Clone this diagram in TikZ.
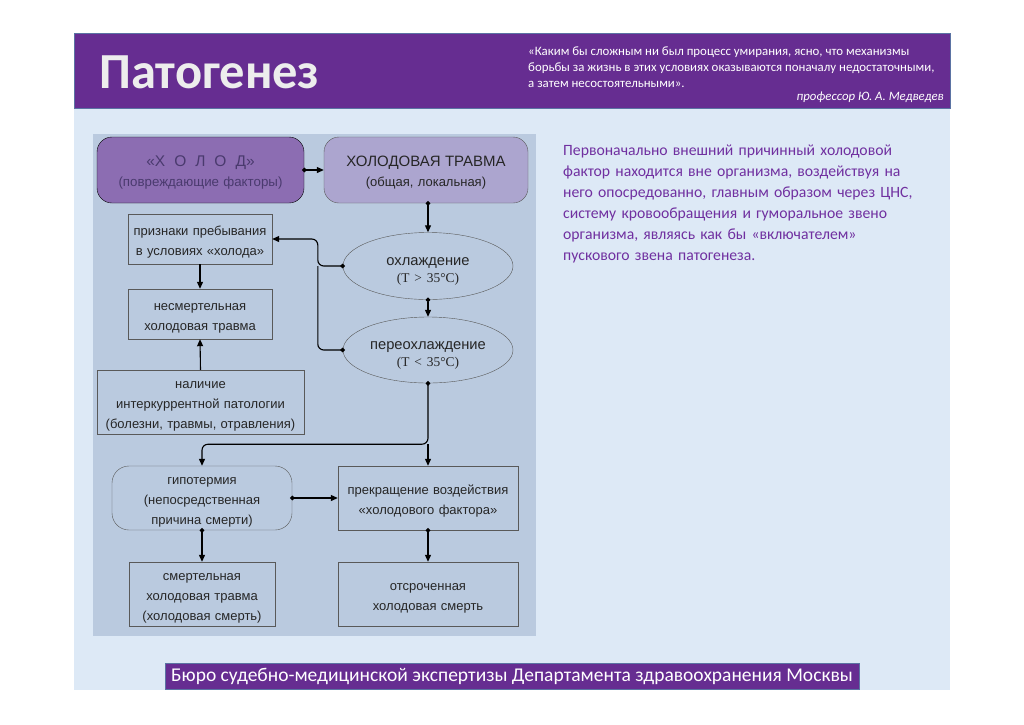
\documentclass[tikz,border=0pt]{standalone}
\usepackage{fontspec}
\setmainfont{Carlito}
\newfontfamily\diagfont{Liberation Sans}
\newfontfamily\tempfont{Liberation Serif}
\usetikzlibrary{positioning,calc,arrows.meta,shapes.geometric}
\definecolor{slidebg}{HTML}{DDE9F6}
\definecolor{headpurple}{HTML}{662D91}
\definecolor{edgeblue}{HTML}{5B73A3}
\definecolor{panelbg}{HTML}{BACADF}
\definecolor{coldfill}{HTML}{8C6DB2}
\definecolor{coldtext}{HTML}{4A3A6E}
\definecolor{traumafill}{HTML}{ACA5CF}
\definecolor{bodypurple}{HTML}{7030A0}
\tikzset{dbox/.style={draw=black!65, fill=panelbg, inner sep=0pt, align=center, text=black!85, font=\diagfont\fontsize{13}{20}\selectfont, execute at begin node={\rule{0pt}{18pt}}, execute at end node=\strut}}
\tikzset{dsize/.style 2 args={minimum width=#1pt, text width=#1pt, minimum height=#2pt}}
\tikzset{droundbox/.style={dbox, rounded corners=15pt}}
\tikzset{doval/.style={dbox, ellipse, text width=116pt, font=\diagfont\fontsize{14.7}{17}\selectfont, execute at begin node=\rule{0pt}{21pt}}}
\tikzset{darr/.style={draw, line width=1.1pt, {Circle[length=4.5pt]}-{Triangle[length=7pt,width=6pt]}, shorten <=-2pt, rounded corners=6pt}}
\tikzset{darr0/.style={draw, line width=1.1pt, -{Triangle[length=7pt,width=6pt]}, rounded corners=6pt}}
\tikzset{dline/.style={draw, line width=1.1pt, {Circle[length=4.5pt]}-, shorten <=-2pt, rounded corners=6pt}}
\newcommand\tval[1]{{\tempfont\fontsize{13.4}{14}\selectfont #1}}
\begin{document}
\begin{tikzpicture}[x=1pt, y=-1pt]
	\useasboundingbox (0,0) rectangle (1024,724);
	\fill[white] (0,0) rectangle (1024,724);
	\fill[slidebg] (74,33) rectangle (950,690);
	\draw[edgeblue, fill=headpurple, line width=1pt] (74,33) rectangle (950,108);

	\node[anchor=west, inner sep=0pt, text=black!7, font=\bfseries\fontsize{50.5}{50}\selectfont] (title) at (99,72) {Патогенез};
	\node[anchor=north west, inner sep=0pt, align=left, text=white, font=\fontsize{12.85}{16}\selectfont] (quote) at (528,46.5)
		{«Каким бы сложным ни был процесс умирания, ясно, что механизмы\\
		борьбы за жизнь в этих условиях оказываются поначалу недостаточными,\\
		а затем несостоятельными».};
	\node[anchor=base east, inner sep=0pt, text=white, font=\itshape\fontsize{12.8}{14}\selectfont] (prof) at (944,100.5) {профессор Ю. А. Медведев};

	\node[anchor=north west, inner sep=0pt, text width=380pt, align=left, text=bodypurple, font=\fontsize{15.7}{21}\selectfont] (onset) at (563,145)
		{Первоначально внешний причинный холодовой\\
		фактор находится вне организма, воздействуя на\\
		него опосредованно, главным образом через ЦНС,\\
		систему кровообращения и гуморальное звено\\
		организма, являясь как бы «включателем»\\
		пускового звена патогенеза.};

	% diagram
	\fill[panelbg] (93,134) rectangle (536,636);
	\node[droundbox, dsize={207}{66}, draw=black, fill=coldfill, text=coldtext] (cold) at (200.5,170)
		{{\fontsize{15.5}{20}\selectfont «Х\hspace{9pt}О\hspace{9pt}Л\hspace{9pt}О\hspace{9pt}Д»}\\{\fontsize{13.3}{20}\selectfont (повреждающие факторы)}};
	\node[droundbox, dsize={204}{66}, fill=traumafill] (trauma) at (426,170)
		{{\fontsize{15}{20}\selectfont ХОЛОДОВАЯ ТРАВМА}\\{\fontsize{13}{20}\selectfont (общая, локальная)}};
	\node[doval, minimum width=170pt, minimum height=67pt] (cooling) at (428,266) {охлаждение\\\tval{(T > 35°C)}};
	\node[doval, minimum width=170pt, minimum height=66pt] (overcool) at (428,350) {переохлаждение\\\tval{(T < 35°C)}};
	\node[dbox, dsize={144}{50}] (signs) at (200,239) {признаки пребывания\\в условиях «холода»};
	\node[dbox, dsize={144}{50}] (nonfatal) at (200,314) {несмертельная\\холодовая травма};
	\node[dbox, dsize={207}{64}] (illness) at (200.5,402) {наличие\\интеркуррентной патологии\\(болезни, травмы, отравления)};
	\node[droundbox, rounded corners=17pt, dsize={180}{64}] (hypo) at (202,498) {гипотермия\\(непосредственная\\причина смерти)};
	\node[dbox, dsize={180}{64}] (stop) at (428,498) {прекращение воздействия\\«холодового фактора»};
	\node[dbox, dsize={146}{64}] (fatal) at (202,594) {смертельная\\холодовая травма\\(холодовая смерть)};
	\node[dbox, dsize={180}{64}] (delayed) at (428,594) {отсроченная\\холодовая смерть};

	\draw[darr] (cold.east) -- (trauma.west);
	\draw[darr] (trauma.south -| cooling.north) -- (cooling.north);
	\draw[darr] (cooling.south) -- (overcool.north);
	\coordinate (feed) at ($(cooling.west)+(-25,0)$);
	\draw[darr] (cooling.west) -- (feed) |- (signs.east);
	\draw[dline] (overcool.west) -| (feed);
	\draw[darr0] (signs.south) -- (nonfatal.north);
	\draw[darr0] (illness.north) -- (nonfatal.south);
	\coordinate (split) at ($(overcool.south)+(0,61)$);
	\draw[darr] (overcool.south) -- (split) -| (hypo.north);
	\draw[darr0] (split) -- (stop.north);
	\draw[darr] (hypo.east) -- (stop.west);
	\draw[darr] (hypo.south) -- (fatal.north);
	\draw[darr] (stop.south) -- (delayed.north);

	\node[draw=edgeblue, fill=headpurple, line width=1pt, inner sep=0pt, minimum width=694pt, minimum height=26pt, text=white, font=\fontsize{19.5}{20}\selectfont] (bureau) at (512,676)
		{Бюро судебно-медицинской экспертизы Департамента здравоохранения Москвы};
\end{tikzpicture}
\end{document}
